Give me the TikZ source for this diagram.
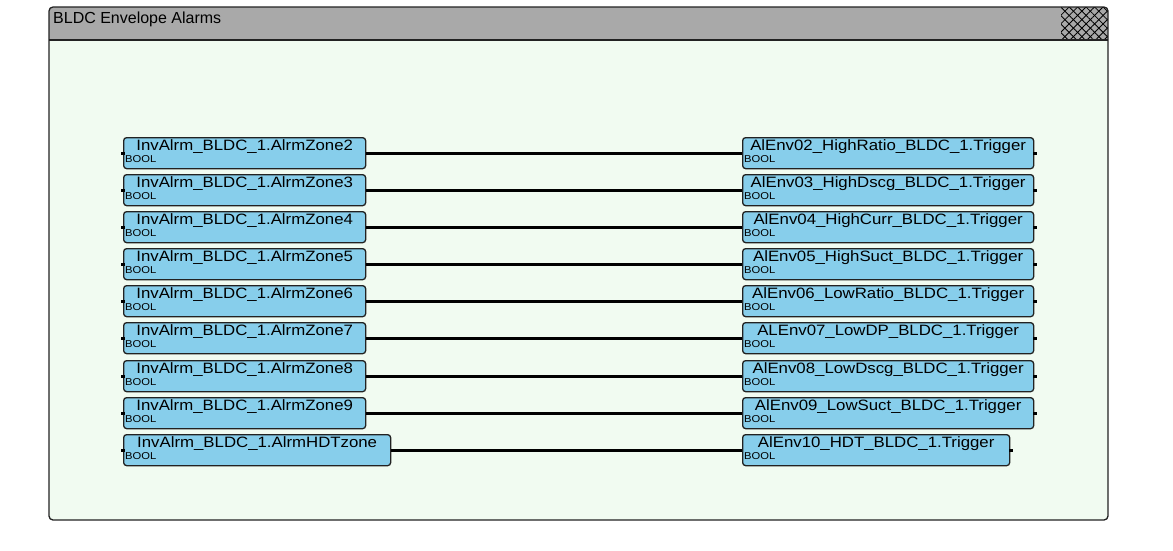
\documentclass[tikz,border=0pt]{standalone}
\usepackage{fontspec}
\setmainfont{Liberation Sans}
\usetikzlibrary{patterns.meta,calc}
\definecolor{hdr}{HTML}{A9A9A9}
\definecolor{bodyc}{HTML}{F1FBF1}
\definecolor{blk}{HTML}{87CEEB}
\definecolor{edgec}{HTML}{222222}
\newcommand{\stx}[1]{\scalebox{1.12}[1]{#1}}
\begin{document}
\begin{tikzpicture}[x=1pt,y=-1pt,
  blockbox/.style={draw=edgec,line width=1.3pt,fill=blk,rounded corners=3pt,minimum height=31pt,inner sep=0pt},
  wire/.style={line width=2.8pt,black},
  pinstub/.style={line width=2.8pt,black},
  lbl/.style={font=\fontsize{15}{15}\selectfont,anchor=base,inner sep=0pt},
  typ/.style={font=\fontsize{10}{10}\selectfont,anchor=base west,inner sep=0pt}]
\useasboundingbox (0,0) rectangle (1173,550);
\fill[white] (0,0) rectangle (1173,550);
% frame
\begin{scope}
  \clip[rounded corners=4pt] (49,7) rectangle (1108,520);
  \fill[bodyc] (49,7) rectangle (1108,520);
  \fill[hdr] (49,7) rectangle (1108,40);
  \fill[pattern={Lines[angle=45,distance=6pt,line width=0.8pt]},pattern color=black] (1061,7) rectangle (1108,40);
  \fill[pattern={Lines[angle=-45,distance=6pt,line width=0.8pt]},pattern color=black] (1061,7) rectangle (1108,40);
\end{scope}
\draw[edgec,line width=1.5pt] (49,40) -- (1108,40);
\draw[edgec,line width=1.3pt,rounded corners=4pt] (49,7) rectangle (1108,520);
\node[anchor=base west,font=\fontsize{16}{16}\selectfont,inner sep=0pt] (title) at (53,23) {BLDC Envelope Alarms};
% blocks
\foreach \i/\ty/\l/\r/\lw/\rw in {
  1/137/InvAlrm\_BLDC\_1.AlrmZone2/AlEnv02\_HighRatio\_BLDC\_1.Trigger/242/291,
  2/174/InvAlrm\_BLDC\_1.AlrmZone3/AlEnv03\_HighDscg\_BLDC\_1.Trigger/242/291,
  3/211/InvAlrm\_BLDC\_1.AlrmZone4/AlEnv04\_HighCurr\_BLDC\_1.Trigger/242/291,
  4/248/InvAlrm\_BLDC\_1.AlrmZone5/AlEnv05\_HighSuct\_BLDC\_1.Trigger/242/291,
  5/285/InvAlrm\_BLDC\_1.AlrmZone6/AlEnv06\_LowRatio\_BLDC\_1.Trigger/242/291,
  6/322/InvAlrm\_BLDC\_1.AlrmZone7/ALEnv07\_LowDP\_BLDC\_1.Trigger/242/291,
  7/360/InvAlrm\_BLDC\_1.AlrmZone8/AlEnv08\_LowDscg\_BLDC\_1.Trigger/242/291,
  8/397/InvAlrm\_BLDC\_1.AlrmZone9/AlEnv09\_LowSuct\_BLDC\_1.Trigger/242/291,
  9/434/InvAlrm\_BLDC\_1.AlrmHDTzone/AlEnv10\_HDT\_BLDC\_1.Trigger/267/267}{
  \node[blockbox,minimum width=\lw pt,anchor=north west] (L\i) at (123,\ty) {};
  \node[blockbox,minimum width=\rw pt,anchor=north west] (R\i) at (742,\ty) {};
  \node[lbl] (Lt\i) at ($(L\i.north)+(0,13)$) {\stx{\l}};
  \node[lbl] (Rt\i) at ($(R\i.north)+(0,13)$) {\stx{\r}};
  \node[typ] (Lb\i) at ($(L\i.north west)+(2,25)$) {\stx{BOOL}};
  \node[typ] (Rb\i) at ($(R\i.north west)+(2,25)$) {\stx{BOOL}};
  \draw[pinstub] ($(L\i.west)+(-2,0)$) -- ($(L\i.west)+(2,0)$);
  \draw[pinstub] ($(R\i.east)+(-1,0)$) -- ($(R\i.east)+(3,0)$);
  \draw[wire] (L\i.east) -- (R\i.west);
}
\end{tikzpicture}
\end{document}
